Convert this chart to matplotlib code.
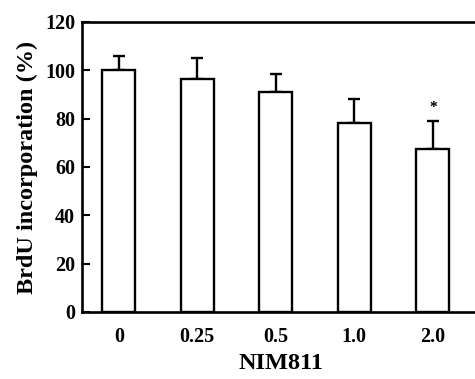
import matplotlib
matplotlib.use("Agg")
import matplotlib.pyplot as plt

categories = ["0", "0.25", "0.5", "1.0", "2.0"]
values = [100, 96.5, 91, 78, 67.5]
errors = [6, 8.5, 7.5, 10, 11.5]
significance = ["", "", "", "", "*"]
yticks = [0, 20, 40, 60, 80, 100, 120]

plt.rcParams['font.family'] = ['Liberation Serif', 'DejaVu Serif']
plt.rcParams['font.weight'] = 'bold'

fig = plt.figure(figsize=(4.75, 3.79), dpi=100)
ax = fig.add_axes([0.1726, 0.1768, 0.8274 + 0.01, 0.942 - 0.1768])

x = list(range(len(categories)))
ax.bar(x, values, width=0.42, color='white', edgecolor='black', linewidth=1.7, zorder=2)
ax.errorbar(x, values, yerr=[[0]*len(errors), errors], fmt='none', ecolor='black',
            elinewidth=1.7, capsize=4.5, capthick=1.7, zorder=1)
for xi, v, e, s in zip(x, values, errors, significance):
    if s:
        ax.text(xi, v + e + 3, s, ha='center', va='bottom', fontsize=11, fontweight='bold')

ax.set_xlim(-0.47, 4.6)
ax.set_ylim(0, 120)
ax.set_yticks(yticks)
ax.set_xticks(x)
ax.set_xticklabels(categories)
ax.tick_params(axis='y', direction='in', length=6, width=1.5, labelsize=14.5, pad=5)
ax.tick_params(axis='x', length=0, labelsize=14.5, pad=11)
for lab in ax.get_xticklabels() + ax.get_yticklabels():
    lab.set_fontweight('bold')
for sp in ['left', 'bottom', 'top']:
    ax.spines[sp].set_linewidth(1.9)
ax.spines['right'].set_visible(False)
ax.set_ylabel("BrdU incorporation (%)", fontsize=17.5, fontweight='bold', labelpad=5)
ax.set_xlabel("NIM811", fontsize=17.5, fontweight='bold', labelpad=4)

fig.savefig("out.png", dpi=100)
